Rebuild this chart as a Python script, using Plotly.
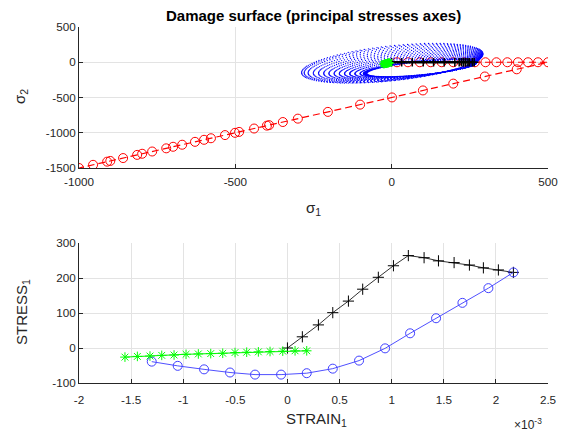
import numpy as np
import plotly.graph_objects as go

# ---------------- data ----------------
# top plot: red load path (principal stresses)
red_s1 = [17, 52, 90, 125, 160, 197, 232, 266, 300, 335, 370, 404, 436, 468, 500,
          400, 298, 197, 100, 1, -101, -204, -300, -348, -392, -399, -440, -488, -501,
          -533, -578, -600, -629, -670, -699, -721, -766, -798, -814, -859, -900,
          -910, -955, -1000]
red_s2 = [0, 0, 0, 0, 0, 0, 0, 0, 0, 0, 0, 0, 0, 0, 0,
          -100, -202, -303, -400, -499, -601, -704, -800, -848, -892, -899, -940, -988,
          -1001, -1033, -1078, -1100, -1129, -1170, -1199, -1221, -1266, -1298, -1314,
          -1359, -1400, -1410, -1455, -1500]

# damage surface (ellipse family): initial -> final
surf_levels = [0, 0.012, 0.024, 0.036, 0.05, 0.1, 0.18, 0.26, 0.34, 0.42, 0.5,
               0.58, 0.66, 0.74, 0.82, 0.9, 0.96, 1.0]
surf_center_s1 = [95, 2]
surf_center_s2 = [-85, -14]
surf_radius_s1 = [175, 290]
surf_radius_s2 = [120, 282]
surf_phase = [0.895, 1.08]

# bottom plot: strain (x 1e-3) / stress
black_strain = [0.0, 0.143, 0.297, 0.435, 0.585, 0.722, 0.872, 1.017, 1.16,
                1.311, 1.449, 1.599, 1.746, 1.88, 2.024, 2.168]
black_stress = [0, 32, 66, 101, 134, 168, 202, 235, 264, 258, 249, 244, 237, 229, 223, 216]

blue_strain = [-1.302, -1.053, -0.80, -0.551, -0.311, -0.061, 0.185, 0.435,
               0.687, 0.937, 1.177, 1.426, 1.679, 1.928, 2.168]
blue_stress = [-39, -51, -61, -70, -76, -76, -72, -59, -36, -1, 42, 85, 129, 171, 216]

green_strain = [-1.559, -1.44, -1.319, -1.206, -1.088, -0.973, -0.855, -0.736,
                -0.621, -0.503, -0.391, -0.279, -0.167, -0.045, 0.073, 0.185]
green_stress = [-26, -24, -23, -21, -20, -18, -17, -16, -15, -13, -12, -11, -10, -9, -8, -8]

top_xticks = [-1000, -500, 0, 500]
top_yticks = [-1500, -1000, -500, 0, 500]
bot_xticks = [-2, -1.5, -1, -0.5, 0, 0.5, 1, 1.5, 2, 2.5]
bot_yticks = [-100, 0, 100, 200, 300]

# ---------------- surface points ----------------
t = np.linspace(0, 2 * np.pi, 130, endpoint=False)
ex, ey = [], []
for lv in surf_levels:
    cx = surf_center_s1[0] + lv * (surf_center_s1[1] - surf_center_s1[0])
    cy = surf_center_s2[0] + lv * (surf_center_s2[1] - surf_center_s2[0])
    rx = surf_radius_s1[0] + lv * (surf_radius_s1[1] - surf_radius_s1[0])
    ry = surf_radius_s2[0] + lv * (surf_radius_s2[1] - surf_radius_s2[0])
    ph = surf_phase[0] + lv * (surf_phase[1] - surf_phase[0])
    ex.extend(cx + rx * np.cos(t))
    ey.extend(cy + ry * np.cos(t - ph))

# page body has an 8px margin, so the figure is 8px smaller and shifted
OFF = 8
W, H = 568 - OFF, 439 - OFF
L, R, T, B = 79 - OFF, 20, 27 - OFF, 56   # plot area 79..548 x 27..383 in window px
PW, PH = W - L - R, H - T - B
FONT = "Liberation Sans, Arial, sans-serif"
TXT = "#262626"

def lab(v):
    return "%g" % v

fig = go.Figure()

# top plot
fig.add_trace(go.Scatter(x=red_s1, y=red_s2, mode="lines+markers",
                         line=dict(color="#ff0000", width=1.2, dash="7px,4px"),
                         marker=dict(symbol="circle-open", size=9, color="#ff0000", line=dict(width=1)),
                         xaxis="x", yaxis="y"))
fig.add_trace(go.Scatter(x=ex, y=ey, mode="markers",
                         marker=dict(size=1.3, color="#0000ff"), xaxis="x", yaxis="y"))
fig.add_trace(go.Scatter(x=black_stress, y=[0] * len(black_stress), mode="lines+markers",
                         line=dict(color="#000000", width=2.5),
                         marker=dict(symbol="cross-thin-open", size=6, color="#000000", line=dict(width=1.5)),
                         xaxis="x", yaxis="y"))
fig.add_trace(go.Scatter(x=green_stress, y=green_stress, mode="lines+markers",
                         line=dict(color="#00ff00", width=2),
                         marker=dict(symbol="asterisk-open", size=7, color="#00ff00", line=dict(width=1.5)),
                         xaxis="x", yaxis="y"))

# bottom plot
fig.add_trace(go.Scatter(x=black_strain, y=black_stress, mode="lines+markers",
                         line=dict(color="#333333", width=1),
                         marker=dict(symbol="cross-thin-open", size=8, color="#000000", line=dict(width=1)),
                         xaxis="x2", yaxis="y2"))
fig.add_trace(go.Scatter(x=blue_strain, y=blue_stress, mode="lines+markers",
                         line=dict(color="#5050ff", width=1),
                         marker=dict(symbol="circle-open", size=9, color="#4040ff", line=dict(width=1)),
                         xaxis="x2", yaxis="y2"))
fig.add_trace(go.Scatter(x=green_strain, y=green_stress, mode="lines+markers",
                         line=dict(color="#00ee00", width=1),
                         marker=dict(symbol="asterisk-open", size=8, color="#00ff00", line=dict(width=1)),
                         xaxis="x2", yaxis="y2"))

ax = dict(showgrid=True, gridcolor="#e3e3e3", gridwidth=1, zeroline=False, automargin=False,
          showline=True, linecolor=TXT, linewidth=1, ticks="inside", ticklen=4,
          tickcolor=TXT, tickfont=dict(family=FONT, size=11.7, color=TXT), mirror=False)

def ydom(top, bot):
    return [(OFF + T + PH - bot) / PH, (OFF + T + PH - top) / PH]

fig.update_layout(
    width=W, height=H, margin=dict(l=L, r=R, t=T, b=B, autoexpand=False),
    paper_bgcolor="white", plot_bgcolor="white", showlegend=False,
    xaxis=dict(ax, domain=[0, 1], range=[-1000, 500], anchor="y", ticklabelstandoff=3,
               tickvals=top_xticks, ticktext=[lab(v) for v in top_xticks]),
    yaxis=dict(ax, domain=ydom(27, 168), range=[-1500, 500], anchor="x",
               tickvals=top_yticks, ticktext=[lab(v) for v in top_yticks]),
    xaxis2=dict(ax, domain=[0, 1], range=[-2, 2.5], anchor="y2", ticklabelstandoff=6,
                tickvals=bot_xticks, ticktext=[lab(v) for v in bot_xticks]),
    yaxis2=dict(ax, domain=ydom(243, 383), range=[-100, 300], anchor="x2",
                tickvals=bot_yticks, ticktext=[lab(v) for v in bot_yticks]),
)

def px(x, y):
    # window pixel -> paper coords
    return (x - OFF - L) / PW, (OFF + T + PH - y) / PH

annots = [
    ("<b>Damage surface (principal stresses axes)</b>", 313, 16, 0, 15, "#000000"),
    ("σ<sub>1</sub>", 313, 208, 0, 15, TXT),
    ("σ<sub>2</sub>", 20, 97, -90, 15, TXT),
    ("STRAIN<sub>1</sub>", 316, 419, 0, 15, TXT),
    ("STRESS<sub>1</sub>", 22, 312, -90, 15, TXT),
    ("×10<sup>-3</sup>", 528, 424, 0, 12, TXT),
]
for txt, x, y, ang, sz, col in annots:
    xx, yy = px(x, y)
    fig.add_annotation(text=txt, x=xx, y=yy, xref="paper", yref="paper",
                       showarrow=False, textangle=ang, xanchor="center", yanchor="middle",
                       font=dict(family=FONT, size=sz, color=col))

fig.write_html("out.html")
